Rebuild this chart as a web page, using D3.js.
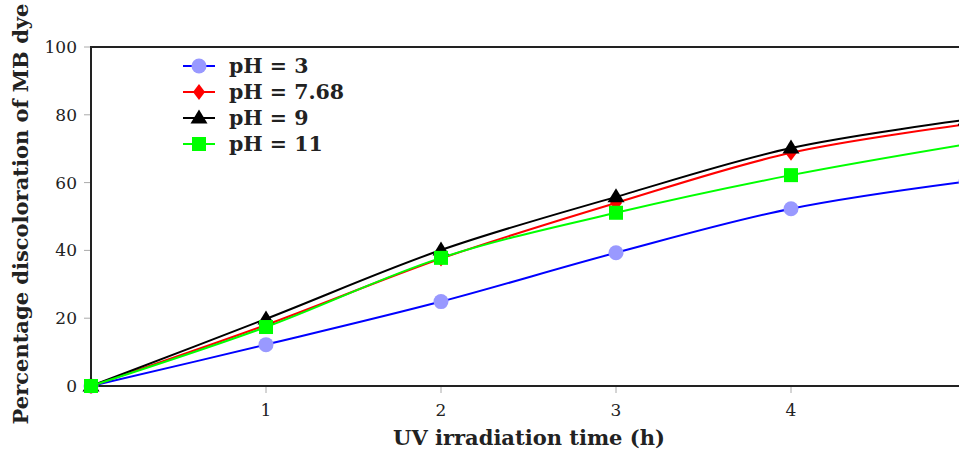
<!DOCTYPE html>
<html>
<head>
<meta charset="utf-8">
<script src="https://cdn.jsdelivr.net/npm/d3@7"></script>
<style>
  body { margin: 0; background: #fff; }
  svg { display: block; }
  text { font-family: "DejaVu Serif", "Liberation Serif", serif; }
</style>
</head>
<body>
<div id="chart"></div>
<script>
let hours = [0, 1, 2, 3, 4, 5];
let ph3 = [0, 12.2, 24.9, 39.3, 52.3, 60.3];
let ph768 = [0, 18.0, 37.6, 54.0, 68.8, 77.2];
let ph9 = [0, 19.8, 40.1, 55.8, 70.2, 78.5];
let ph11 = [0, 17.4, 37.8, 51.1, 62.2, 71.3];
let seriesNames = ["pH = 3", "pH = 7.68", "pH = 9", "pH = 11"];
let xTicks = [1, 2, 3, 4];
let yTicks = [0, 20, 40, 60, 80, 100];

let series = [
    {name: seriesNames[0], values: ph3, color: "#0000ff", mark: "circle", fill: "#9999ff"},
    {name: seriesNames[1], values: ph768, color: "#ff0000", mark: "diamond", fill: "#ff0000"},
    {name: seriesNames[2], values: ph9, color: "#000000", mark: "triangle", fill: "#000000"},
    {name: seriesNames[3], values: ph11, color: "#00ff00", mark: "square", fill: "#00ff00"}
];

let W = 959, H = 450;
let plotLeft = 91, plotTop = 47, plotBottom = 386, plotRight = 966;

let svg = d3.select("#chart")
    .append("svg")
    .attr("width", W)
    .attr("height", H);

let x = d3.scaleLinear().domain([0, 5]).range([plotLeft, plotRight]);
let y = d3.scaleLinear().domain([0, 100]).range([plotBottom, plotTop]);

// ticks (gray, outward)
svg.append("g")
    .selectAll("line")
    .data(xTicks)
    .enter()
    .append("line")
    .attr("x1", d => x(d)).attr("x2", d => x(d))
    .attr("y1", plotBottom).attr("y2", plotBottom + 7)
    .attr("stroke", "#aaa").attr("stroke-width", 1);

svg.append("g")
    .selectAll("line")
    .data(yTicks)
    .enter()
    .append("line")
    .attr("x1", plotLeft - 7).attr("x2", plotLeft)
    .attr("y1", d => y(d)).attr("y2", d => y(d))
    .attr("stroke", "#aaa").attr("stroke-width", 1);

svg.append("g")
    .selectAll("text")
    .data(xTicks)
    .enter()
    .append("text")
    .attr("x", d => x(d))
    .attr("y", plotBottom + 30)
    .attr("text-anchor", "middle")
    .attr("font-size", 17)
    .attr("fill", "#222")
    .text(d => d);

svg.append("g")
    .selectAll("text")
    .data(yTicks)
    .enter()
    .append("text")
    .attr("x", plotLeft - 14)
    .attr("y", d => y(d) + 6)
    .attr("text-anchor", "end")
    .attr("font-size", 17)
    .attr("fill", "#222")
    .text(d => d);

// axis frame
svg.append("path")
    .attr("d", "M" + plotRight + "," + plotTop + "H" + plotLeft + "V" + plotBottom + "H" + plotRight)
    .attr("fill", "none")
    .attr("stroke", "#222")
    .attr("stroke-width", 2);

let line = d3.line()
    .x((d, i) => x(hours[i]))
    .y(d => y(d))
    .curve(d3.curveCatmullRom.alpha(0.5));

function drawMark(g, type, cx, cy, fill) {
    if (type === "circle") {
        g.append("circle").attr("cx", cx).attr("cy", cy).attr("r", 7.5).attr("fill", fill);
    } else if (type === "square") {
        g.append("rect").attr("x", cx - 7).attr("y", cy - 7).attr("width", 14).attr("height", 14).attr("fill", fill);
    } else if (type === "triangle") {
        g.append("path").attr("d", "M" + cx + "," + (cy - 8.5) + "L" + (cx + 8.5) + "," + (cy + 5.5) + "L" + (cx - 8.5) + "," + (cy + 5.5) + "Z").attr("fill", fill);
    } else if (type === "diamond") {
        g.append("path").attr("d", "M" + cx + "," + (cy - 8) + "L" + (cx + 6) + "," + cy + "L" + cx + "," + (cy + 8) + "L" + (cx - 6) + "," + cy + "Z").attr("fill", fill);
    }
}

series.forEach(function (s) {
    let g = svg.append("g");
    g.append("path")
        .datum(s.values)
        .attr("d", line)
        .attr("fill", "none")
        .attr("stroke", s.color)
        .attr("stroke-width", 2);
    s.values.forEach(function (v, i) {
        drawMark(g, s.mark, x(hours[i]), y(v), s.fill);
    });
});

// legend
let legend = svg.append("g");
series.forEach(function (s, i) {
    let ly = 66 + i * 26;
    legend.append("line")
        .attr("x1", 183).attr("x2", 215)
        .attr("y1", ly).attr("y2", ly)
        .attr("stroke", s.color).attr("stroke-width", 2);
    drawMark(legend, s.mark, 199, ly, s.fill);
    legend.append("text")
        .attr("x", 229)
        .attr("y", ly + 7)
        .attr("font-size", 20.5)
        .attr("font-weight", "bold")
        .attr("fill", "#222")
        .text(s.name);
});

// axis labels
svg.append("text")
    .attr("x", 529)
    .attr("y", 445)
    .attr("text-anchor", "middle")
    .attr("font-size", 21)
    .attr("font-weight", "bold")
    .attr("fill", "#222")
    .text("UV irradiation time (h)");

svg.append("text")
    .attr("transform", "translate(28,214) rotate(-90)")
    .attr("text-anchor", "middle")
    .attr("font-size", 21)
    .attr("font-weight", "bold")
    .attr("fill", "#222")
    .text("Percentage discoloration of MB dye");
</script>
</body>
</html>
